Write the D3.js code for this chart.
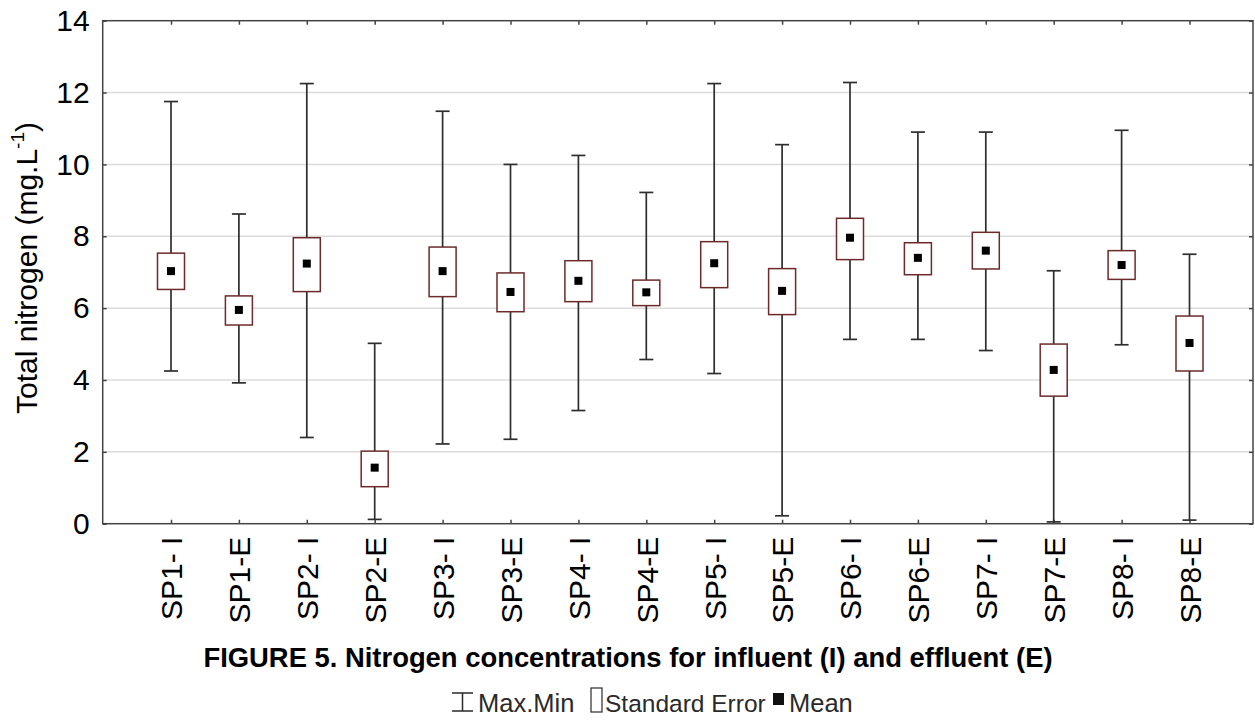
<!DOCTYPE html>
<html>
<head>
<meta charset="utf-8">
<script src="https://cdn.jsdelivr.net/npm/d3@7"></script>
<style>
  html, body { margin: 0; padding: 0; background: #fff; }
  svg { display: block; font-family: "Liberation Sans", Arial, sans-serif; }
</style>
</head>
<body>
<svg id="chart" width="1255" height="721"></svg>
<script>
// Sampling points: influent (I) and effluent (E) for SP1..SP8
const categories = ["SP1- I", "SP1-E", "SP2- I", "SP2-E", "SP3- I", "SP3-E", "SP4- I", "SP4-E",
                    "SP5- I", "SP5-E", "SP6- I", "SP6-E", "SP7- I", "SP7-E", "SP8- I", "SP8-E"];
// Total nitrogen (mg/L)
const maxValues = [11.75, 8.62, 12.25, 5.02, 11.48, 10.0, 10.25, 9.22, 12.25, 10.55, 12.28, 10.9, 10.9, 7.04, 10.95, 7.5];
const minValues = [4.25, 3.92, 2.4, 0.12, 2.22, 2.35, 3.15, 4.57, 4.18, 0.22, 5.13, 5.13, 4.82, 0.05, 4.98, 0.1];
const seUpper   = [7.53, 6.34, 7.96, 2.02, 7.7, 6.98, 7.32, 6.78, 7.85, 7.1, 8.5, 7.82, 8.11, 5.0, 7.6, 5.78];
const seLower   = [6.52, 5.53, 6.46, 1.03, 6.32, 5.9, 6.18, 6.07, 6.57, 5.82, 7.35, 6.93, 7.09, 3.55, 6.8, 4.25];
const means     = [7.03, 5.95, 7.24, 1.56, 7.03, 6.45, 6.76, 6.44, 7.25, 6.48, 7.96, 7.4, 7.6, 4.28, 7.2, 5.03];
const yTicks = [0, 2, 4, 6, 8, 10, 12, 14];

const rows = categories.map((c, i) => ({
  cat: c, max: maxValues[i], min: minValues[i], hi: seUpper[i], lo: seLower[i], mean: means[i]
}));

const svg = d3.select("#chart");
const plot = { left: 102.7, right: 1253, top: 20.7, bottom: 523.7 };

const y = d3.scaleLinear().domain([0, 14]).range([plot.bottom, plot.top]);
const x = d3.scalePoint().domain(categories).range([171, 1189.5]);

const frameColor = "#444";
const boxColor = "#6e2a2a";
const whiskerColor = "#2e2e2e";
const tickLen = 4;
const labelSize = 30;

// Horizontal gridlines
svg.append("g")
  .selectAll("line")
  .data(yTicks.filter(t => t > 0 && t < 14))
  .join("line")
  .attr("x1", plot.left).attr("x2", plot.right)
  .attr("y1", d => y(d)).attr("y2", d => y(d))
  .attr("stroke", "#dcdcdc").attr("stroke-width", 1.5);

// Left axis with inward ticks
const leftAxis = d3.axisLeft(y).tickValues(yTicks).tickSizeInner(-tickLen).tickSizeOuter(0).tickPadding(13);
const gL = svg.append("g").attr("transform", `translate(${plot.left},0)`).call(leftAxis);
gL.select(".domain").remove();
gL.selectAll(".tick line").attr("stroke", frameColor).attr("stroke-width", 1.5);
gL.selectAll(".tick text")
  .attr("font-size", labelSize).attr("fill", "#000")
  .attr("font-family", "'Liberation Sans', Arial, sans-serif");

// Right axis ticks
const rightAxis = d3.axisRight(y).tickValues(yTicks).tickSizeInner(-tickLen).tickSizeOuter(0).tickFormat("");
const gR = svg.append("g").attr("transform", `translate(${plot.right},0)`).call(rightAxis);
gR.select(".domain").remove();
gR.selectAll(".tick line").attr("stroke", frameColor).attr("stroke-width", 1.5);

// Bottom axis with inward ticks and rotated labels
const bottomAxis = d3.axisBottom(x).tickSizeInner(-tickLen).tickSizeOuter(0).tickPadding(0);
const gB = svg.append("g").attr("transform", `translate(0,${plot.bottom})`).call(bottomAxis);
gB.select(".domain").remove();
gB.selectAll(".tick line").attr("stroke", frameColor).attr("stroke-width", 1.5);
gB.selectAll(".tick text")
  .attr("font-size", labelSize).attr("fill", "#000")
  .attr("font-family", "'Liberation Sans', Arial, sans-serif")
  .attr("text-anchor", "end")
  .attr("y", 0)
  .attr("dy", "0.36em")
  .attr("transform", "translate(0,13) rotate(-90)")
  .attr("x", 0);

// Top axis ticks
const topAxis = d3.axisTop(x).tickSizeInner(-tickLen).tickSizeOuter(0).tickFormat("");
const gT = svg.append("g").attr("transform", `translate(0,${plot.top})`).call(topAxis);
gT.select(".domain").remove();
gT.selectAll(".tick line").attr("stroke", frameColor).attr("stroke-width", 1.5);

// Plot frame
svg.append("rect")
  .attr("x", plot.left).attr("y", plot.top)
  .attr("width", plot.right - plot.left).attr("height", plot.bottom - plot.top)
  .attr("fill", "none").attr("stroke", frameColor).attr("stroke-width", 1.5);

// Whiskers (max/min)
const capW = 14;
const g = svg.append("g");
const items = g.selectAll("g.item").data(rows).join("g").attr("class", "item");
items.append("line")
  .attr("x1", d => x(d.cat)).attr("x2", d => x(d.cat))
  .attr("y1", d => y(d.max)).attr("y2", d => y(d.min))
  .attr("stroke", whiskerColor).attr("stroke-width", 1.7);
items.append("line")
  .attr("x1", d => x(d.cat) - capW / 2).attr("x2", d => x(d.cat) + capW / 2)
  .attr("y1", d => y(d.max)).attr("y2", d => y(d.max))
  .attr("stroke", whiskerColor).attr("stroke-width", 1.7);
items.append("line")
  .attr("x1", d => x(d.cat) - capW / 2).attr("x2", d => x(d.cat) + capW / 2)
  .attr("y1", d => y(d.min)).attr("y2", d => y(d.min))
  .attr("stroke", whiskerColor).attr("stroke-width", 1.7);

// Standard error boxes
const boxW = 27;
items.append("rect")
  .attr("x", d => x(d.cat) - boxW / 2)
  .attr("y", d => y(d.hi))
  .attr("width", boxW)
  .attr("height", d => y(d.lo) - y(d.hi))
  .attr("fill", "#fff").attr("stroke", boxColor).attr("stroke-width", 1.5);

// Means
const mS = 8;
items.append("rect")
  .attr("x", d => x(d.cat) - mS / 2)
  .attr("y", d => y(d.mean) - mS / 2)
  .attr("width", mS).attr("height", mS)
  .attr("fill", "#000");

// Y axis title
svg.append("text")
  .attr("transform", `translate(37,268) rotate(-90)`)
  .attr("text-anchor", "middle")
  .attr("font-size", labelSize).attr("fill", "#000")
  .call(t => {
    t.append("tspan").text("Total nitrogen (mg.L");
    t.append("tspan").attr("font-size", 19).attr("dy", -13).text("-1");
    t.append("tspan").attr("dy", 13).text(")");
  });

// Figure caption
svg.append("text")
  .attr("x", 628).attr("y", 667)
  .attr("text-anchor", "middle")
  .attr("font-size", 27.4).attr("font-weight", "bold").attr("fill", "#000")
  .text("FIGURE 5. Nitrogen concentrations for influent (I) and effluent (E)");

// Legend
const leg = svg.append("g").attr("fill", "#2a2a2a");
const legY = 712;
// whisker symbol
leg.append("path")
  .attr("d", `M452,693 H473 M462.5,693 V711 M452,711 H473`)
  .attr("stroke", "#2a2a2a").attr("stroke-width", 1.5).attr("fill", "none");
leg.append("text").attr("x", 478).attr("y", legY).attr("font-size", 25.5).text("Max.Min");
// box symbol
leg.append("rect").attr("x", 591).attr("y", 688).attr("width", 11).attr("height", 24)
  .attr("fill", "none").attr("stroke", "#2a2a2a").attr("stroke-width", 1.2);
leg.append("text").attr("x", 605).attr("y", legY).attr("font-size", 24.5).text("Standard Error");
// mean symbol
leg.append("rect").attr("x", 773).attr("y", 693).attr("width", 11).attr("height", 12).attr("fill", "#111");
leg.append("text").attr("x", 789).attr("y", legY).attr("font-size", 25.5).text("Mean");
</script>
</body>
</html>
